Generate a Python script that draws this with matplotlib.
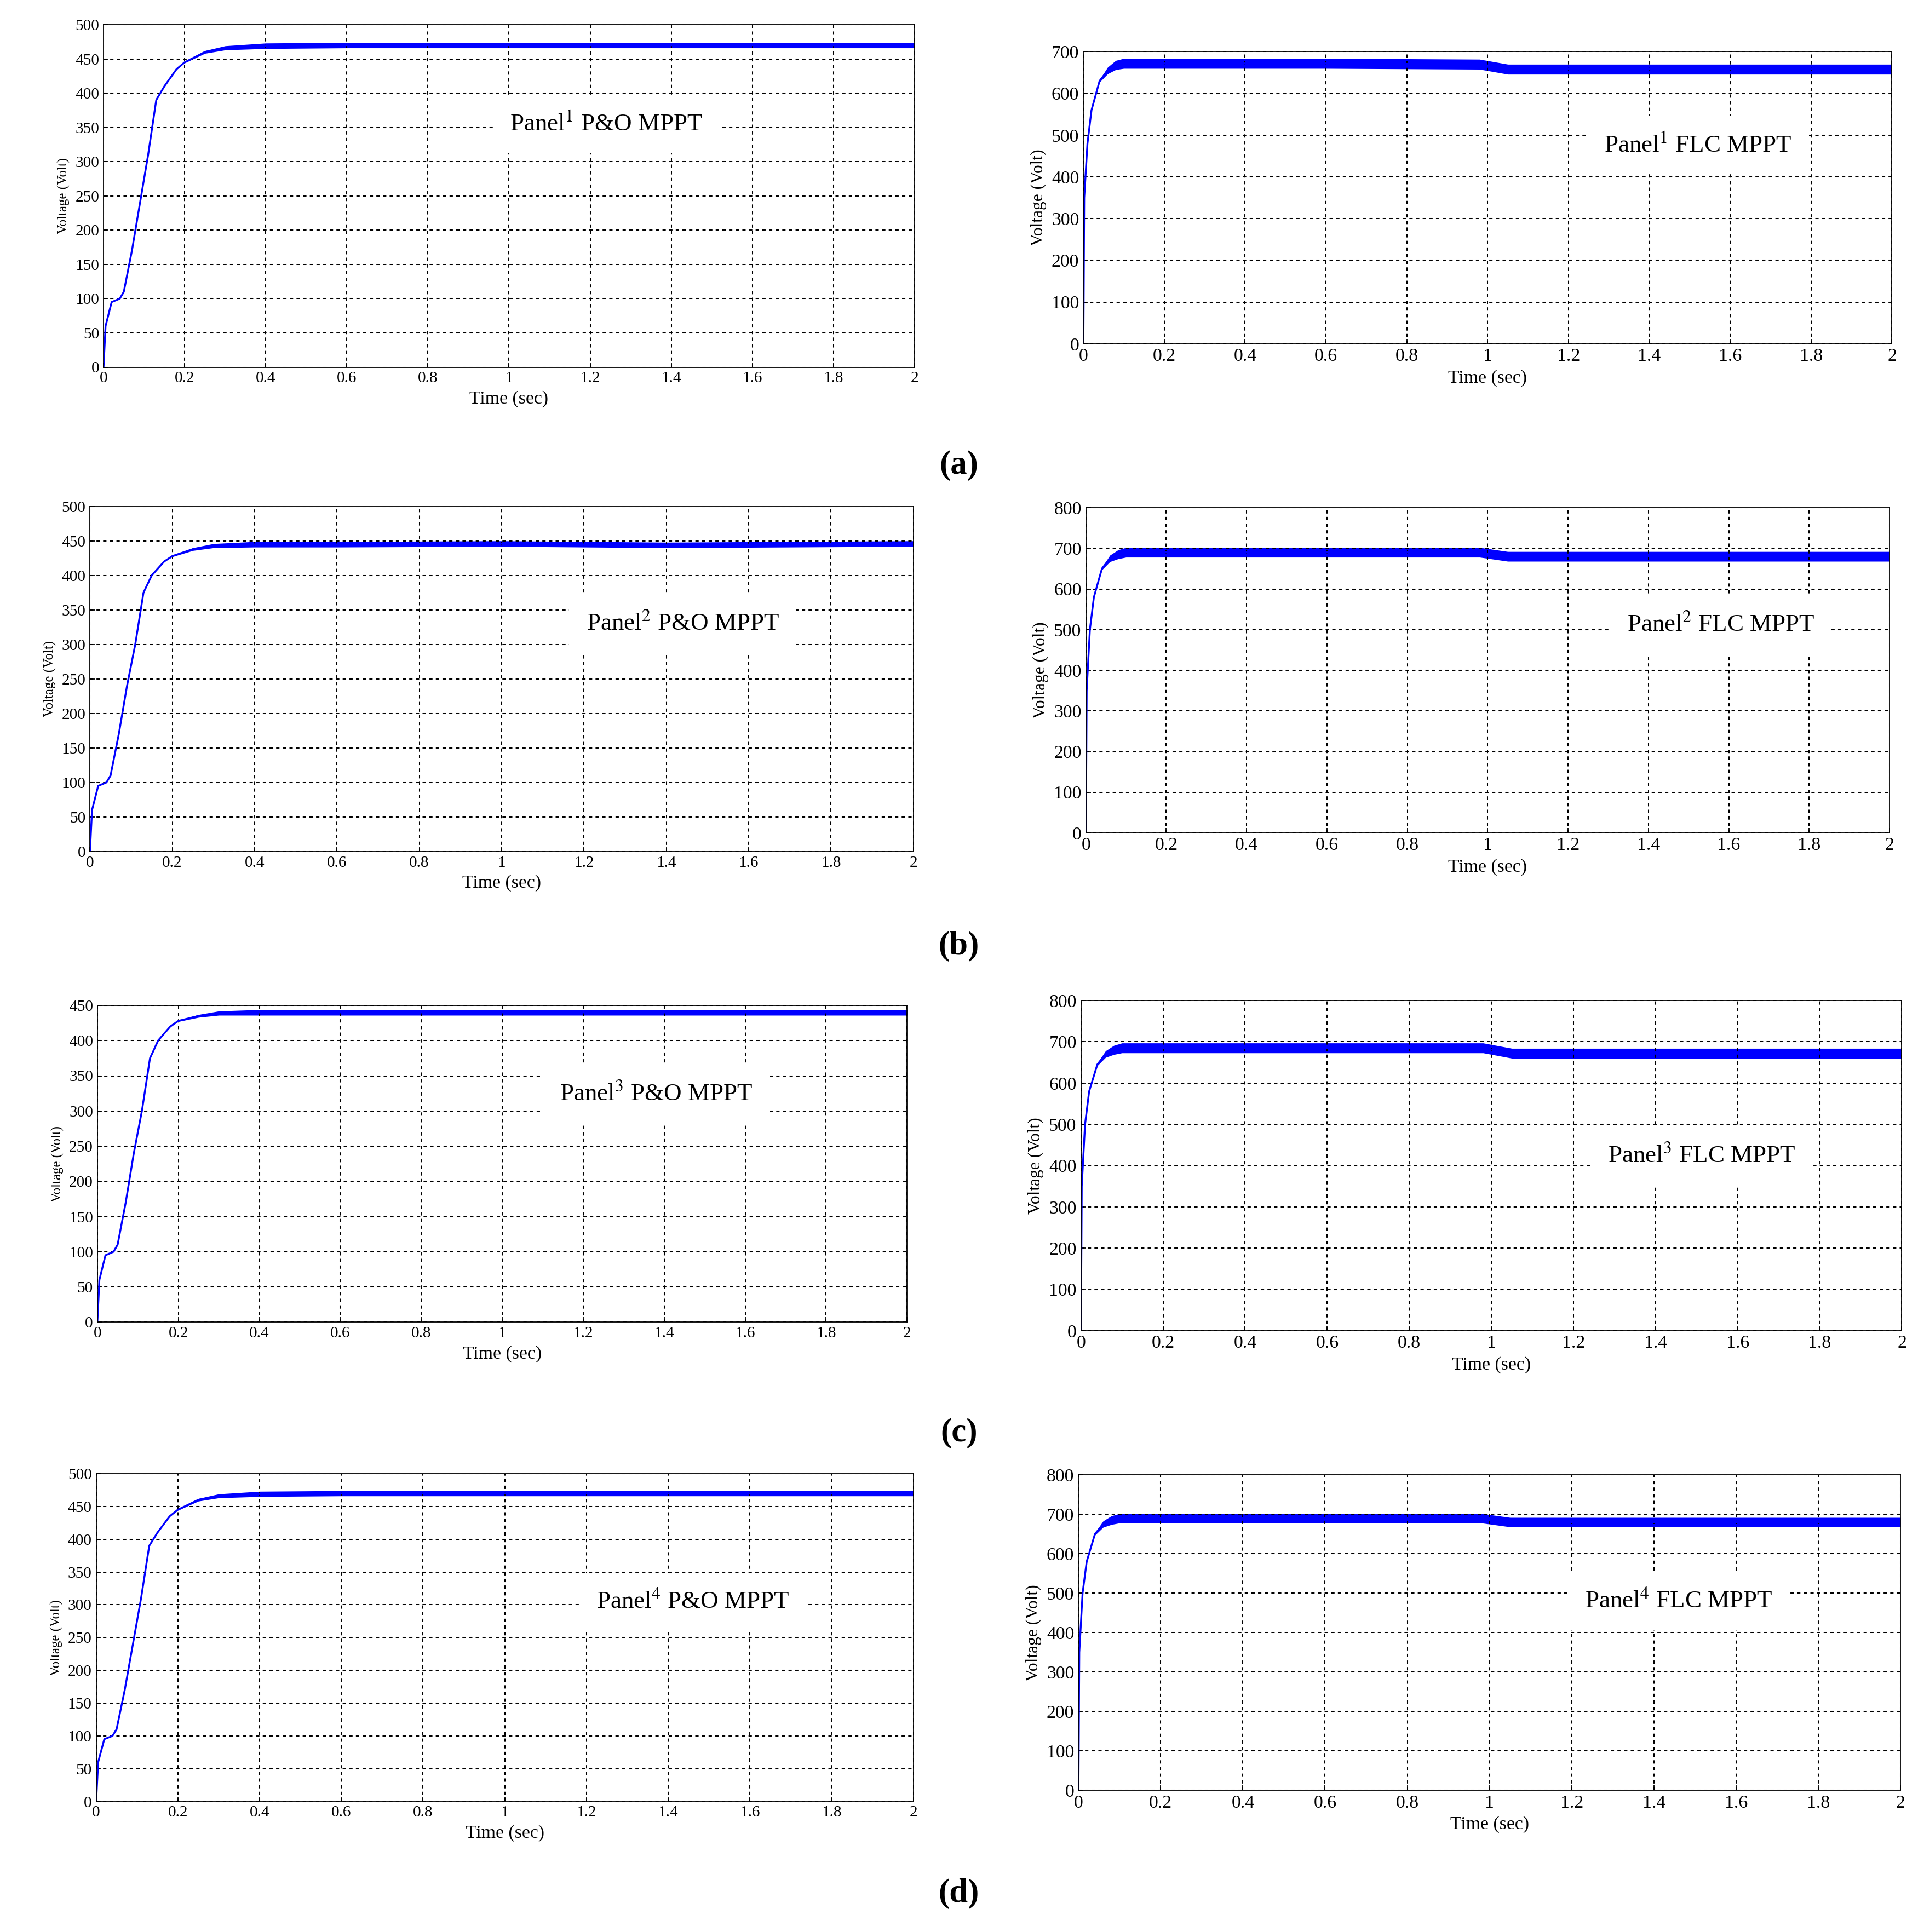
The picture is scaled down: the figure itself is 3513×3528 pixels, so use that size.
import matplotlib.pyplot as plt
import numpy as np

plt.rcParams['font.family'] = ['Liberation Serif', 'DejaVu Serif']
plt.rcParams['mathtext.fontset'] = 'stix'

W, H = 1561.0, 1568.0

# time / voltage key points
t_po = [0, 0.005, 0.02, 0.04, 0.05, 0.07, 0.09, 0.11, 0.13, 0.15, 0.18, 0.2, 0.25, 0.3, 0.4, 0.6, 1.0, 1.4, 2.0]
v_po1 = [0, 60, 95, 100, 110, 170, 240, 310, 390, 410, 435, 445, 460, 466, 469, 470, 470, 470, 470]
v_po2 = [0, 60, 95, 100, 110, 170, 240, 300, 375, 400, 420, 428, 438, 443, 445, 445, 446, 444, 446]
v_po3 = [0, 60, 95, 100, 110, 170, 240, 300, 375, 400, 420, 428, 435, 439, 440, 440, 440, 440, 440]
v_po4 = [0, 60, 95, 100, 110, 170, 240, 310, 390, 410, 435, 445, 460, 466, 469, 470, 470, 470, 470]
rip_po = [0, 0, 0, 0, 0, 0, 0, 0, 0, 0, 0, 1, 2, 3, 4, 4, 4, 4, 4]

t_flc = [0, 0.002, 0.01, 0.02, 0.04, 0.06, 0.08, 0.1, 0.3, 0.6, 0.98, 1.05, 1.5, 2.0]
v_flc1 = [0, 350, 480, 560, 630, 655, 668, 672, 672, 672, 670, 658, 658, 658]
v_flc2 = [0, 350, 500, 580, 650, 675, 685, 690, 690, 690, 690, 680, 680, 680]
v_flc3 = [0, 350, 500, 580, 645, 670, 680, 685, 685, 685, 685, 672, 672, 672]
v_flc4 = [0, 350, 500, 580, 650, 675, 685, 690, 690, 690, 690, 680, 680, 680]
rip_flc = [0, 0, 0, 0, 3, 8, 11, 12, 12, 12, 12, 12, 12, 12]

panels = [
    # (t, v, ripple, ymax, ystep, label, box (x0,y0,x1,y1) px, text pos)
    (t_po, v_po1, rip_po, 500, 50, r"Panel$^{1}$ P&O MPPT", (84, 20, 742, 298), (0.62, 0.71)),
    (t_flc, v_flc1, rip_flc, 700, 100, r"Panel$^{1}$ FLC MPPT", (879, 42, 1535, 279), (0.76, 0.68)),
    (t_po, v_po2, rip_po, 500, 50, r"Panel$^{2}$ P&O MPPT", (73, 411, 741, 691), (0.72, 0.66)),
    (t_flc, v_flc2, rip_flc, 800, 100, r"Panel$^{2}$ FLC MPPT", (881, 412, 1533, 676), (0.79, 0.64)),
    (t_po, v_po3, rip_po, 450, 50, r"Panel$^{3}$ P&O MPPT", (79, 816, 736, 1073), (0.69, 0.72)),
    (t_flc, v_flc3, rip_flc, 800, 100, r"Panel$^{3}$ FLC MPPT", (877, 812, 1543, 1080), (0.756, 0.53)),
    (t_po, v_po4, rip_po, 500, 50, r"Panel$^{4}$ P&O MPPT", (78, 1196, 741, 1462), (0.73, 0.61)),
    (t_flc, v_flc4, rip_flc, 800, 100, r"Panel$^{4}$ FLC MPPT", (875, 1197, 1542, 1453), (0.73, 0.60)),
]
row_labels = ["(a)", "(b)", "(c)", "(d)"]
row_label_y = [378, 768, 1163, 1537]

fig = plt.figure(figsize=(3513 / 162, 3528 / 162), dpi=162)

for i, (t, v, rip, ymax, ystep, label, box, tpos) in enumerate(panels):
    x0, y0, x1, y1 = box
    ax = fig.add_axes([x0 / W, 1 - y1 / H, (x1 - x0) / W, (y1 - y0) / H])
    v = np.array(v, float)
    rip = np.array(rip, float)
    ax.fill_between(t, v - rip, v + rip, color='#0000ff', lw=0)
    ax.plot(t, v, color='#0000ff', lw=1.5)
    ax.set_xlim(0, 2)
    ax.set_ylim(0, ymax)
    ax.set_xticks(np.arange(0, 2.01, 0.2))
    ax.set_xticklabels(['0', '0.2', '0.4', '0.6', '0.8', '1', '1.2', '1.4', '1.6', '1.8', '2'])
    ax.set_yticks(np.arange(0, ymax + 1, ystep))
    ax.grid(True, color='black', linestyle=(0, (3, 3)), lw=0.9)
    ax.tick_params(labelsize=15 if i % 2 else 13, direction='in', length=4)
    ax.set_xlabel("Time (sec)", fontsize=15, labelpad=4)
    ax.set_ylabel("Voltage (Volt)", fontsize=14 if i % 2 else 11, labelpad=4)
    for s in ax.spines.values():
        s.set_linewidth(0.8)
    ax.text(tpos[0], tpos[1], label, transform=ax.transAxes, fontsize=20,
            ha='center', va='center', zorder=5,
            bbox=dict(facecolor='white', edgecolor='none', pad=14))

for lab, y in zip(row_labels, row_label_y):
    fig.text(778 / W, 1 - y / H, lab, ha='center', va='center', fontsize=27, fontweight='bold')

fig.savefig("out.png", dpi=162)
